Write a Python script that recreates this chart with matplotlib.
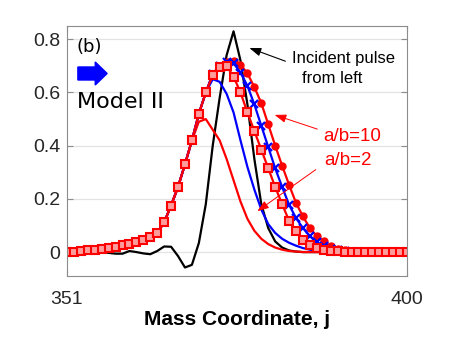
import numpy as np
import matplotlib
matplotlib.use("Agg")
import matplotlib.pyplot as plt
import matplotlib.patches as mpatches

plt.rcParams['font.family'] = ['Liberation Sans', 'DejaVu Sans']

# mass coordinate
j = np.arange(351, 401)

# shared rising part (351..371)
rise = [0.000, 0.002, 0.004, 0.006, 0.009, 0.012, 0.016, 0.020, 0.025, 0.031,
        0.038, 0.046, 0.055, 0.072, 0.112, 0.175, 0.245, 0.330, 0.420, 0.520,
        0.600]

# a/b=2 model, squares (372..400)
sq_tail = [0.665, 0.695, 0.700, 0.660, 0.600, 0.525, 0.455, 0.385, 0.315, 0.245,
           0.180, 0.118, 0.078, 0.047, 0.028, 0.016, 0.009, 0.005, 0.003, 0.001,
           0, 0, 0, 0, 0, 0, 0, 0, 0]
# crosses (372..400)
x_tail = [0.670, 0.700, 0.715, 0.710, 0.675, 0.625, 0.555, 0.475, 0.395, 0.315,
          0.245, 0.178, 0.128, 0.090, 0.060, 0.038, 0.022, 0.012, 0.006, 0.003,
          0.001, 0, 0, 0, 0, 0, 0, 0, 0]
# a/b=10, circles (372..400)
ci_tail = [0.670, 0.700, 0.715, 0.720, 0.705, 0.672, 0.620, 0.560, 0.480, 0.400,
           0.325, 0.253, 0.185, 0.134, 0.090, 0.060, 0.040, 0.022, 0.012, 0.006,
           0.003, 0.001, 0, 0, 0, 0, 0, 0, 0]
# plain blue line (372..400)
bl_tail = [0.650, 0.640, 0.595, 0.525, 0.420, 0.320, 0.235, 0.160, 0.105, 0.072,
           0.050, 0.035, 0.024, 0.015, 0.009, 0.005, 0.003, 0.001,
           0, 0, 0, 0, 0, 0, 0, 0, 0, 0, 0]
# plain red line (370..400)
rd_tail = [0.490, 0.500, 0.460, 0.420, 0.350, 0.270, 0.190, 0.125, 0.080, 0.050,
           0.030, 0.017, 0.009, 0.004, 0.002,
           0, 0, 0, 0, 0, 0, 0, 0, 0, 0, 0, 0, 0, 0, 0, 0]
# incident pulse
incident = [0, 0, 0, 0, 0, 0, -0.003, -0.006, -0.006, 0.004,
            0.0, -0.005, -0.008, 0.004, 0.021, 0.020, -0.015, -0.058, -0.048, 0.034,
            0.180, 0.400, 0.580, 0.740, 0.830, 0.720, 0.555, 0.350, 0.180, 0.090,
            0.040, 0.017, 0.006, 0.002, 0, 0, 0, 0, 0, 0,
            0, 0, 0, 0, 0, 0, 0, 0, 0, 0]

squares = rise + sq_tail
crosses = rise + x_tail
circles = rise + ci_tail
blue_plain = rise + bl_tail
red_plain = rise[:19] + rd_tail

fig = plt.figure(figsize=(4.5, 3.38), dpi=100)
ax = fig.add_axes([0.1489, 0.1834, 0.7556, 0.7397])

ax.plot(j, incident, color='black', lw=1.6)
ax.plot(j, blue_plain, color='blue', lw=1.6)
ax.plot(j, red_plain, color='red', lw=1.6)
ax.plot(j, circles, color='red', lw=1.6, marker='o', ms=5, mec='red', mfc='red')
ax.plot(j, crosses, color='blue', lw=1.6, marker='x', ms=5.5, mew=1.6)
ax.plot(j, squares, color='red', lw=1.6, marker='s', ms=5.5, mew=1.5, mfc='#ff9c9c')

ax.set_xlim(351, 400)
ax.set_ylim(-0.09, 0.85)
ax.set_xticks([351, 400])
ax.set_yticks([0, 0.2, 0.4, 0.6, 0.8])
ax.set_yticklabels(['0', '0.2', '0.4', '0.6', '0.8'])
ax.yaxis.grid(True, color='#e3e3e3', lw=0.9)
ax.set_axisbelow(True)
for s in ax.spines.values():
    s.set_color('#8c8c8c')
ax.tick_params(direction='in', length=4, color='#8c8c8c', labelcolor='#262626',
               labelsize=14, right=True, top=True)
ax.tick_params(axis='x', pad=10.5)
ax.tick_params(axis='y', pad=5)
ax.set_xlabel('Mass Coordinate, j', fontsize=15, fontweight='bold', labelpad=2)

ax.text(352.44, 0.752, '(b)', fontsize=13, family='DejaVu Sans', va='baseline')
ax.text(352.44, 0.541, 'Model II', fontsize=16, family='DejaVu Sans', va='baseline')
ax.add_patch(mpatches.FancyArrow(0.032, 0.81, 0.086, 0, width=0.052, head_width=0.092,
                                 head_length=0.035, length_includes_head=True,
                                 color='blue', transform=ax.transAxes))

ax.text(383.42, 0.710, 'Incident pulse', fontsize=12, va='baseline')
ax.text(384.87, 0.635, 'from left', fontsize=12, va='baseline')
ax.annotate('', xy=(376.9, 0.771), xytext=(382.85, 0.714),
            arrowprops=dict(arrowstyle='-|>,head_length=0.7,head_width=0.25',
                            color='black', lw=0.8))
ax.text(387.89, 0.4176, 'a/b=10', fontsize=13.5, color='red', va='baseline')
ax.annotate('', xy=(380.54, 0.519), xytext=(387.46, 0.459),
            arrowprops=dict(arrowstyle='-|>,head_length=0.7,head_width=0.25',
                            color='red', lw=0.7))
ax.text(388.04, 0.3276, 'a/b=2', fontsize=13.5, color='red', va='baseline')
ax.annotate('', xy=(378.09, 0.1475), xytext=(387.17, 0.316),
            arrowprops=dict(arrowstyle='-|>,head_length=0.7,head_width=0.25',
                            color='red', lw=0.7))

fig.savefig('out.png', dpi=100)
